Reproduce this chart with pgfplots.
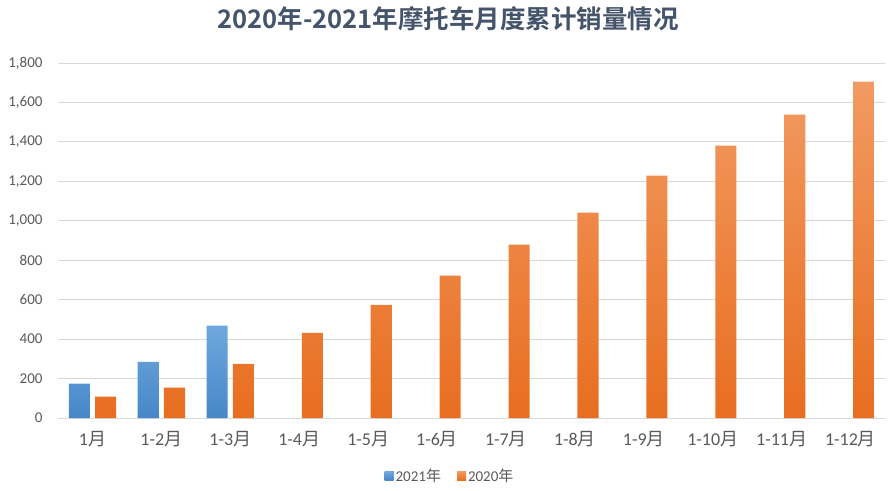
\documentclass[border=0pt]{standalone}
\usepackage{pgfplots}
\pgfplotsset{compat=1.18}
\usepackage{fontspec}
\setmainfont{Carlito}
\newfontfamily\cjk{Noto Sans CJK SC}
\newfontfamily\cjkb{Noto Sans CJK SC Bold}
\definecolor{bluetop}{HTML}{6FA8DE}
\definecolor{bluebot}{HTML}{4787C8}
\definecolor{orgtop}{HTML}{F29A62}
\definecolor{orgbot}{HTML}{E86E20}
\definecolor{blueleg}{HTML}{5B9BD5}
\definecolor{orgleg}{HTML}{ED7D31}
\definecolor{gridc}{HTML}{D9D9D9}
\definecolor{textc}{HTML}{595959}
\definecolor{titlec}{HTML}{44546A}
\pgfplotstableread{
x v
0 174
1 285
2 468
}\tabA
\pgfplotstableread{
x v
0 108
1 154
2 275
3 431
4 574
5 722
6 879
7 1041
8 1229
9 1381
10 1538
11 1705
}\tabB
\begin{document}
\begin{tikzpicture}
\useasboundingbox (0pt,0pt) rectangle (894pt,490pt);
\begin{axis}[
  at={(58pt,72pt)}, anchor=south west,
  scale only axis, width=827pt, height=355pt,
  xmin=-0.5, xmax=11.5, ymin=0, ymax=1800,
  axis x line*=bottom, axis y line*=left,
  x axis line style={draw=gridc, line width=0.8pt},
  y axis line style={draw=none},
  ytick={0,200,...,1800},
  xtick={0,...,11},
  xticklabels={1{\cjk 月},1-2{\cjk 月},1-3{\cjk 月},1-4{\cjk 月},1-5{\cjk 月},1-6{\cjk 月},1-7{\cjk 月},1-8{\cjk 月},1-9{\cjk 月},1-10{\cjk 月},1-11{\cjk 月},1-12{\cjk 月}},
  major tick length=0pt,
  ymajorgrids, grid style={draw=gridc, line width=0.8pt},
  /pgf/number format/assume math mode=true,
  /pgf/number format/1000 sep={,},
  yticklabel style={font=\fontsize{15}{17}\selectfont, text=textc, xshift=-12pt},
  xticklabel style={font=\fontsize{18}{20}\selectfont, text=textc, yshift=-10pt},
  title={\cjkb 2020年-2021年摩托车月度累计销量情况},
  title style={at={(0.472,1.108)}, anchor=center, font=\fontsize{25.5}{29}\selectfont, text=titlec},
  legend columns=2,
  legend style={at={(0.474,-0.163)}, anchor=center, draw=none, fill=none,
    font=\fontsize{15}{17}\selectfont, text=textc,
    /tikz/every even column/.append style={column sep=14pt}},
  legend cell align=left,
]
\addplot[ybar, bar width=0.306, bar shift=-0.19, draw=none, top color=bluetop, bottom color=bluebot,
  legend image code/.code={\fill[blueleg] (0pt,-4.5pt) rectangle (9pt,4.5pt);}]
  table[x=x,y=v]{\tabA};
\addlegendentry{2021{\cjk 年}}
\addplot[ybar, bar width=0.306, bar shift=0.19, draw=none, top color=orgtop, bottom color=orgbot,
  legend image code/.code={\fill[orgleg] (0pt,-4.5pt) rectangle (9pt,4.5pt);}]
  table[x=x,y=v]{\tabB};
\addlegendentry{2020{\cjk 年}}
\end{axis}
\end{tikzpicture}
\end{document}
